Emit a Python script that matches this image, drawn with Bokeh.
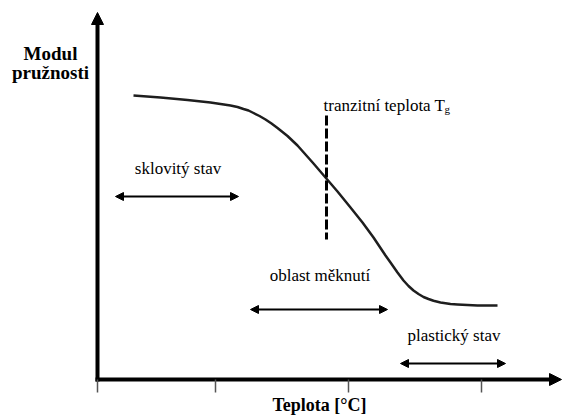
from bokeh.plotting import figure
from bokeh.models import Range1d, Arrow, NormalHead
from bokeh.core.properties import value
from bokeh.embed import file_html
from bokeh.resources import INLINE

# ---- data (schematic, in chart units) ----
temperature = [133, 160, 187, 210, 230, 237, 243, 248, 253, 259, 265, 271, 277, 287, 297, 305, 313,
               325, 337, 350, 362, 373, 385, 390, 397, 403, 408, 413, 418, 423, 428, 433, 440, 450,
               457, 477, 497]
modulus = [95, 97, 99.5, 102, 105, 106.5, 108.5, 110, 112.5, 115.5, 119, 123, 127.5, 135.5, 145, 154, 163,
           177, 191, 207, 222, 237, 255, 262, 272, 280, 285.5, 290, 293.5, 296.5, 298.5, 300.3, 302, 303.5,
           304, 305, 305]

tg_temperature = 326
tg_label = "tranzitní teplota T"
tg_sub = "g"

region_names = ["sklovitý stav", "oblast měknutí", "plastický stav"]
region_start = [115, 250, 400]
region_end = [238, 387, 505]

x_ticks = [97, 215, 348, 481]
x_label = "Teplota [°C]"
y_label_lines = ["Modul", "pružnosti"]

# ---- layout ----
W, H = 563, 417
origin_x, origin_y = 97, 379
x_tip, y_tip = 561, 12
region_arrow_y = [196, 309, 363]
region_text_y = [168, 275, 335]

SERIF = value("Liberation Serif")

p = figure(width=W, height=H, output_backend="svg", toolbar_location=None,
           x_range=Range1d(0, W), y_range=Range1d(H, 0),
           x_axis_type=None, y_axis_type=None, min_border=0)
p.grid.visible = False
p.outline_line_color = None
p.background_fill_color = "white"
p.border_fill_color = "white"

# axes
p.segment(x0=[origin_x - 2], y0=[origin_y], x1=[x_tip - 8], y1=[origin_y], line_width=4, line_color="black")
p.segment(x0=[origin_x], y0=[origin_y + 2], x1=[origin_x], y1=[y_tip + 8], line_width=4, line_color="black")
p.add_layout(Arrow(end=NormalHead(size=12, fill_color="black", line_color="black"),
                   x_start=x_tip - 10, y_start=origin_y, x_end=x_tip, y_end=origin_y,
                   line_width=1, line_color="black"))
p.add_layout(Arrow(end=NormalHead(size=12, fill_color="black", line_color="black"),
                   x_start=origin_x, y_start=y_tip + 10, x_end=origin_x, y_end=y_tip,
                   line_width=1, line_color="black"))

# ticks
p.segment(x0=x_ticks, y0=[origin_y] * len(x_ticks), x1=x_ticks, y1=[origin_y + 13] * len(x_ticks),
          line_width=1.5, line_color="#555555")

# curve
p.line(temperature, modulus, line_width=2.5, line_color="#1e1e1e", line_join="round")

# Tg dashed line
p.segment(x0=[tg_temperature], y0=[115], x1=[tg_temperature], y1=[239],
          line_width=3, line_color="black", line_dash="10 3")
p.text(x=[323], y=[105], text=[tg_label], text_font=SERIF, text_font_size="17px",
       text_align="left", text_baseline="alphabetic", text_color="black")
p.text(x=[444], y=[108], text=[tg_sub], text_font=SERIF, text_font_size="11px",
       text_align="left", text_baseline="alphabetic", text_color="black")

# regions
for name, xs, xe, ay, ty in zip(region_names, region_start, region_end, region_arrow_y, region_text_y):
    p.add_layout(Arrow(start=NormalHead(size=8, fill_color="black", line_color="black"),
                       end=NormalHead(size=8, fill_color="black", line_color="black"),
                       x_start=xs, y_start=ay, x_end=xe, y_end=ay,
                       line_width=1.8, line_color="black"))
    p.text(x=[(xs + xe) / 2 + 1], y=[ty], text=[name], text_font=SERIF, text_font_size="17px",
           text_align="center", text_baseline="middle", text_color="black")

# axis labels
p.text(x=[319], y=[404], text=[x_label], text_font=SERIF, text_font_size="18px",
       text_font_style="bold", text_align="center", text_baseline="alphabetic", text_color="black")
p.text(x=[50, 50], y=[53, 72], text=y_label_lines, text_font=SERIF, text_font_size="19px",
       text_font_style="bold", text_align="center", text_baseline="alphabetic", text_color="black")

open("out.html", "w").write(file_html(p, INLINE))
